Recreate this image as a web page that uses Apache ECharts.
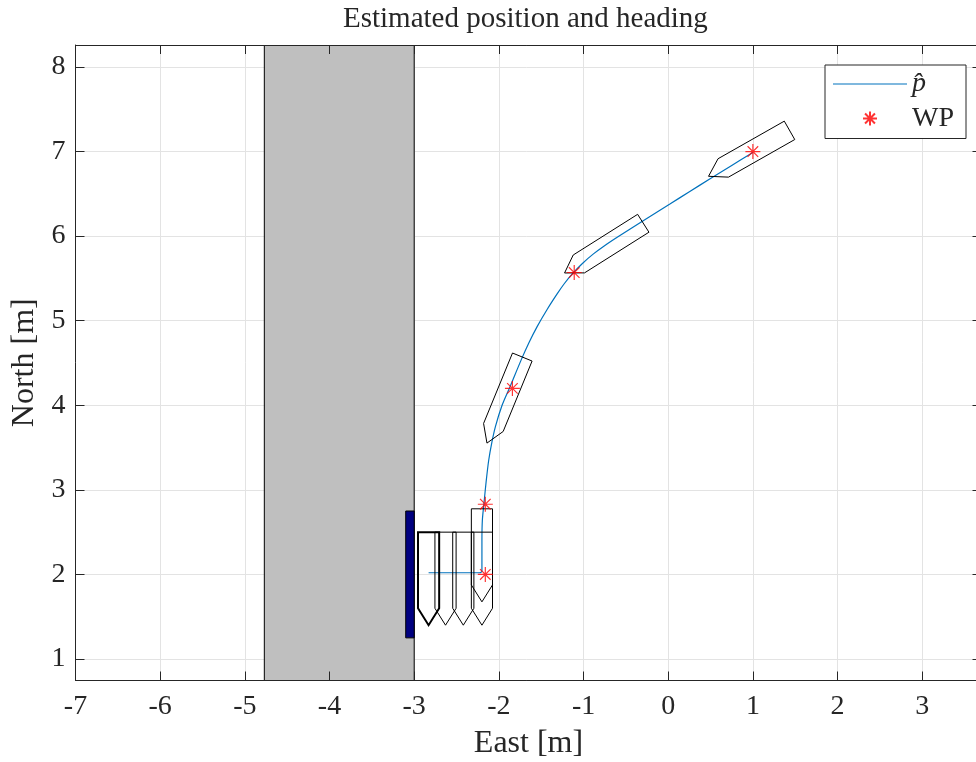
<!DOCTYPE html>
<html>
<head>
<meta charset="utf-8">
<script src="https://cdn.jsdelivr.net/npm/echarts@6/dist/echarts.min.js"></script>
<style>html,body{margin:0;padding:0;background:#fff;}#c{width:976px;height:762px;}</style>
</head>
<body>
<div id="c"></div>
<script>
// ---- data ----
const xTicks = [-7, -6, -5, -4, -3, -2, -1, 0, 1, 2, 3];
const yTicks = [1, 2, 3, 4, 5, 6, 7, 8];

const trajE = [-2.83, -2.60, -2.40, -2.23, -2.21, -2.20, -2.20, -2.20, -2.20, -2.195, -2.175, -2.150, -2.120, -2.085, -2.040, -1.962, -1.868, -1.735, -1.645, -1.548, -1.432, -1.310, -1.226, -1.128, -1.010, -0.883, -0.748, -0.598, -0.30, 0.02, 0.25, 0.49, 0.75, 1.00];
const trajN = [2.02, 2.02, 2.02, 2.02, 2.025, 2.04, 2.08, 2.20, 2.40, 2.64, 2.85, 3.10, 3.35, 3.55, 3.75, 4.00, 4.22, 4.54, 4.74, 4.93, 5.13, 5.32, 5.44, 5.56, 5.68, 5.79, 5.89, 5.99, 6.18, 6.38, 6.525, 6.675, 6.835, 6.99];

const wpE = [-2.16, -2.16, -1.84, -1.11, 1.00];
const wpN = [2.00, 2.83, 4.20, 5.57, 7.00];

// boat poses: east, north, heading (deg, clockwise from north)
const boatE = [-2.83, -2.63, -2.42, -2.20, -2.20, -1.913, -0.717, 0.998];
const boatN = [2.00, 2.00, 2.00, 2.00, 2.276, 4.108, 5.885, 7.004];
const boatPsi = [180, 180, 180, 180, 180, 202.3, 237.7, 240.4];

// hull outline in body frame (forward, starboard), metres
const hullX = [-0.5, 0.4, 0.6, 0.4, -0.5];
const hullY = [-0.125, -0.125, 0, 0.125, 0.125];

// dock and fender extents
const dockEast = [-4.77, -3.0];
const dockNorth = [-5, 15];
const fenderEast = [-3.1, -3.0];
const fenderNorth = [1.25, 2.75];

// ---- chart ----
const FONT = 'Liberation Serif';
const AX = '#262626';
const chart = echarts.init(document.getElementById('c'), null, {renderer: 'canvas'});

const xMin = -7, xMax = 3.7, yMin = 0.746, yMax = 8.26;

function axisCommon(min, max) {
  return {type: 'value', min: min, max: max, scale: true};
}

const rectItem = function (params, api) {
  const p0 = api.coord([api.value(0), api.value(3)]);
  const p1 = api.coord([api.value(1), api.value(2)]);
  const fill = params.seriesName === 'dock' ? '#bfbfbf' : '#000080';
  return {
    type: 'rect',
    shape: {x: p0[0], y: p0[1], width: p1[0] - p0[0], height: p1[1] - p0[1]},
    style: {fill: fill, stroke: '#000', lineWidth: 1}
  };
};

const option = {
  backgroundColor: '#fff',
  animation: false,
  title: {
    text: 'Estimated position and heading',
    left: 338, top: 0,
    textStyle: {fontFamily: FONT, fontSize: 29, fontWeight: 'normal', color: AX}
  },
  grid: {left: 75.5, top: 45, width: 906, height: 635.5, containLabel: false, outerBoundsMode: 'none'},
  legend: {
    left: 825, top: 65,
    orient: 'vertical',
    padding: [5, 12, 6, 8],
    itemGap: 6.5,
    itemWidth: 74, itemHeight: 14,
    symbolKeepAspect: true,
    borderColor: AX, borderWidth: 1, borderRadius: 0,
    backgroundColor: '#fff',
    textStyle: {fontFamily: FONT, fontSize: 28, color: AX, lineHeight: 28},
    data: [
      {name: 'p\u0302', icon: 'path://M0,0L100,0L100,1.4L0,1.4Z', textStyle: {fontStyle: 'italic'}},
      {name: 'WP'}
    ],
    z: 10
  },
  xAxis: [
    Object.assign(axisCommon(xMin, xMax), {
      position: 'bottom', z: 3,
      axisLine: {show: true, onZero: false, lineStyle: {color: AX, width: 1}},
      axisTick: {show: true, inside: true, length: 9, customValues: xTicks, lineStyle: {color: AX}},
      axisLabel: {customValues: xTicks, fontFamily: FONT, fontSize: 28, color: AX, margin: 12},
      splitLine: {show: false},
      name: 'East [m]', nameLocation: 'middle', nameGap: 47,
      nameTextStyle: {fontFamily: FONT, fontSize: 32, color: AX}
    }),
    Object.assign(axisCommon(xMin, xMax), {
      position: 'top', z: 3,
      axisLine: {show: true, onZero: false, lineStyle: {color: AX, width: 1}},
      axisTick: {show: true, inside: true, length: 9, customValues: xTicks, lineStyle: {color: AX}},
      axisLabel: {show: false},
      splitLine: {show: false}
    }),
    Object.assign(axisCommon(xMin, xMax), {
      position: 'bottom', z: 0,
      axisLine: {show: false},
      axisTick: {show: false, customValues: xTicks},
      axisLabel: {show: false, customValues: xTicks},
      splitLine: {show: true, lineStyle: {color: '#e3e3e3', width: 1}}
    })
  ],
  yAxis: [
    Object.assign(axisCommon(yMin, yMax), {
      position: 'left', z: 3,
      axisLine: {show: true, onZero: false, lineStyle: {color: AX, width: 1}},
      axisTick: {show: true, inside: true, length: 9, customValues: yTicks, lineStyle: {color: AX}},
      axisLabel: {customValues: yTicks, fontFamily: FONT, fontSize: 28, color: AX, margin: 10},
      splitLine: {show: false},
      name: 'North [m]', nameLocation: 'middle', nameGap: 33, nameRotate: 90,
      nameTextStyle: {fontFamily: FONT, fontSize: 32, color: AX}
    }),
    Object.assign(axisCommon(yMin, yMax), {
      position: 'right', z: 3,
      axisLine: {show: true, onZero: false, lineStyle: {color: AX, width: 1}},
      axisTick: {show: true, inside: true, length: 9, customValues: yTicks, lineStyle: {color: AX}},
      axisLabel: {show: false},
      splitLine: {show: false}
    }),
    Object.assign(axisCommon(yMin, yMax), {
      position: 'left', z: 0,
      axisLine: {show: false},
      axisTick: {show: false, customValues: yTicks},
      axisLabel: {show: false, customValues: yTicks},
      splitLine: {show: true, lineStyle: {color: '#e3e3e3', width: 1}}
    })
  ],
  series: [
    {
      name: 'dock', type: 'custom', xAxisIndex: 0, yAxisIndex: 0, clip: true, z: 1,
      encode: {x: [0, 1], y: [2, 3]},
      renderItem: rectItem,
      data: [[dockEast[0], dockEast[1], dockNorth[0], dockNorth[1]]]
    },
    {
      name: 'fender', type: 'custom', xAxisIndex: 0, yAxisIndex: 0, clip: true, z: 2,
      encode: {x: [0, 1], y: [2, 3]},
      renderItem: rectItem,
      data: [[fenderEast[0], fenderEast[1], fenderNorth[0], fenderNorth[1]]]
    },
    {
      name: 'p\u0302', type: 'line', xAxisIndex: 0, yAxisIndex: 0, z: 3,
      symbol: 'none', showSymbol: false, smooth: 0.3,
      lineStyle: {color: '#0072BD', width: 1.2},
      itemStyle: {color: '#0072BD'},
      data: trajE.map((e, i) => [e, trajN[i]])
    },
    {
      name: 'boats', type: 'custom', xAxisIndex: 0, yAxisIndex: 0, clip: true, z: 4,
      encode: {x: 0, y: 1},
      renderItem: function (params, api) {
        const e0 = api.value(0), n0 = api.value(1), psi = api.value(2) * Math.PI / 180;
        const s = Math.sin(psi), c = Math.cos(psi);
        const pts = hullX.map((x, i) => {
          const y = hullY[i];
          return api.coord([e0 + x * s + y * c, n0 + x * c - y * s]);
        });
        return {
          type: 'polygon',
          shape: {points: pts},
          style: {fill: 'none', stroke: '#000', lineWidth: params.dataIndex === 0 ? 2 : 1}
        };
      },
      data: boatE.map((e, i) => [e, boatN[i], boatPsi[i]])
    },
    {
      name: 'WP', type: 'scatter', xAxisIndex: 0, yAxisIndex: 0, z: 5,
      symbol: 'path://M0,-10L0,10M-10,0L10,0M-7.07,-7.07L7.07,7.07M-7.07,7.07L7.07,-7.07',
      symbolSize: 15,
      itemStyle: {color: 'rgba(0,0,0,0)', borderColor: '#ff0000', borderWidth: 1.2},
      data: wpE.map((e, i) => [e, wpN[i]])
    }
  ]
};
chart.setOption(option);
</script>
</body>
</html>
